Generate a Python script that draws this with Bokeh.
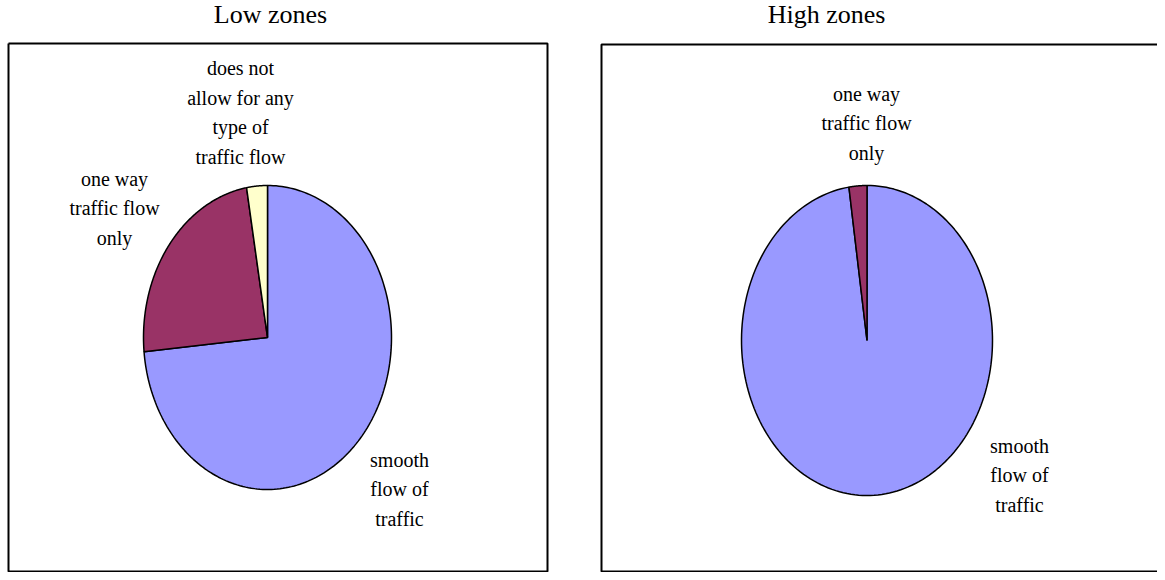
import numpy as np
from bokeh.plotting import figure
from bokeh.models import Range1d, ColumnDataSource
from bokeh.core.properties import value
from bokeh.embed import file_html
from bokeh.resources import INLINE

# ---------------- data ----------------
panel_titles = ["Low zones", "High zones"]

low_categories = ["smooth flow of traffic", "one way traffic flow only",
                  "does not allow for any type of traffic flow"]
low_values = [73.5, 23.8, 2.7]
low_labels = ["smooth\nflow of\ntraffic", "one way\ntraffic flow\nonly",
              "does not\nallow for any\ntype of\ntraffic flow"]

high_categories = ["smooth flow of traffic", "one way traffic flow only"]
high_values = [97.7, 2.3]
high_labels = ["smooth\nflow of\ntraffic", "one way\ntraffic flow\nonly"]

slice_colors = ["#9999FF", "#993366", "#FFFFCC"]

# ---------------- layout ----------------
W, H = 1157, 572
FONT = "Liberation Serif"

p = figure(width=W, height=H, x_range=Range1d(0, W), y_range=Range1d(H, 0),
           x_axis_type=None, y_axis_type=None, toolbar_location=None,
           output_backend="svg", min_border=0, title=None)
p.grid.visible = False
p.outline_line_color = None
p.background_fill_color = "white"
p.border_fill_color = "white"

panels = [
    dict(title=panel_titles[0], values=low_values, cats=low_categories, labels=low_labels,
         frame_x=[8, 547, 547, 8, 8], frame_y=[43, 43, 571, 571, 43],
         center=(267, 337), radii=(124, 152), title_xy=(270, 14),
         label_xy=[(399, 489), (114, 208), (240, 112)]),
    dict(title=panel_titles[1], values=high_values, cats=high_categories, labels=high_labels,
         frame_x=[1300, 601, 601, 1300], frame_y=[44, 44, 571, 571],
         center=(866.5, 340), radii=(125.5, 155), title_xy=(826, 14),
         label_xy=[(1019, 475), (866, 123)]),
]

for pan in panels:
    p.line(pan["frame_x"], pan["frame_y"], line_color="black", line_width=2)
    vals = np.array(pan["values"], dtype=float)
    fr = np.concatenate([[0], np.cumsum(vals) / vals.sum()])
    cx, cy = pan["center"]
    rx, ry = pan["radii"]
    xs, ys = [], []
    for i in range(len(vals)):
        th = np.linspace(fr[i], fr[i + 1], 200) * 2 * np.pi
        xs.append(list(np.concatenate([[cx], cx + rx * np.sin(th)])))
        ys.append(list(np.concatenate([[cy], cy - ry * np.cos(th)])))
    src = ColumnDataSource(dict(xs=xs, ys=ys, color=slice_colors[:len(vals)], cat=pan["cats"]))
    p.patches("xs", "ys", source=src, fill_color="color", line_color="black", line_width=1.5)

    lx = [q[0] for q in pan["label_xy"]]
    ly = [q[1] for q in pan["label_xy"]]
    p.text(x=lx, y=ly, text=pan["labels"], text_font=value(FONT), text_font_size="20px",
           text_align="center", text_baseline="middle", text_line_height=1.36, text_color="black")
    p.text(x=[pan["title_xy"][0]], y=[pan["title_xy"][1]], text=[pan["title"]],
           text_font=value(FONT), text_font_size="26px", text_align="center",
           text_baseline="middle", text_color="black")

open("out.html", "w").write(file_html(p, INLINE))
